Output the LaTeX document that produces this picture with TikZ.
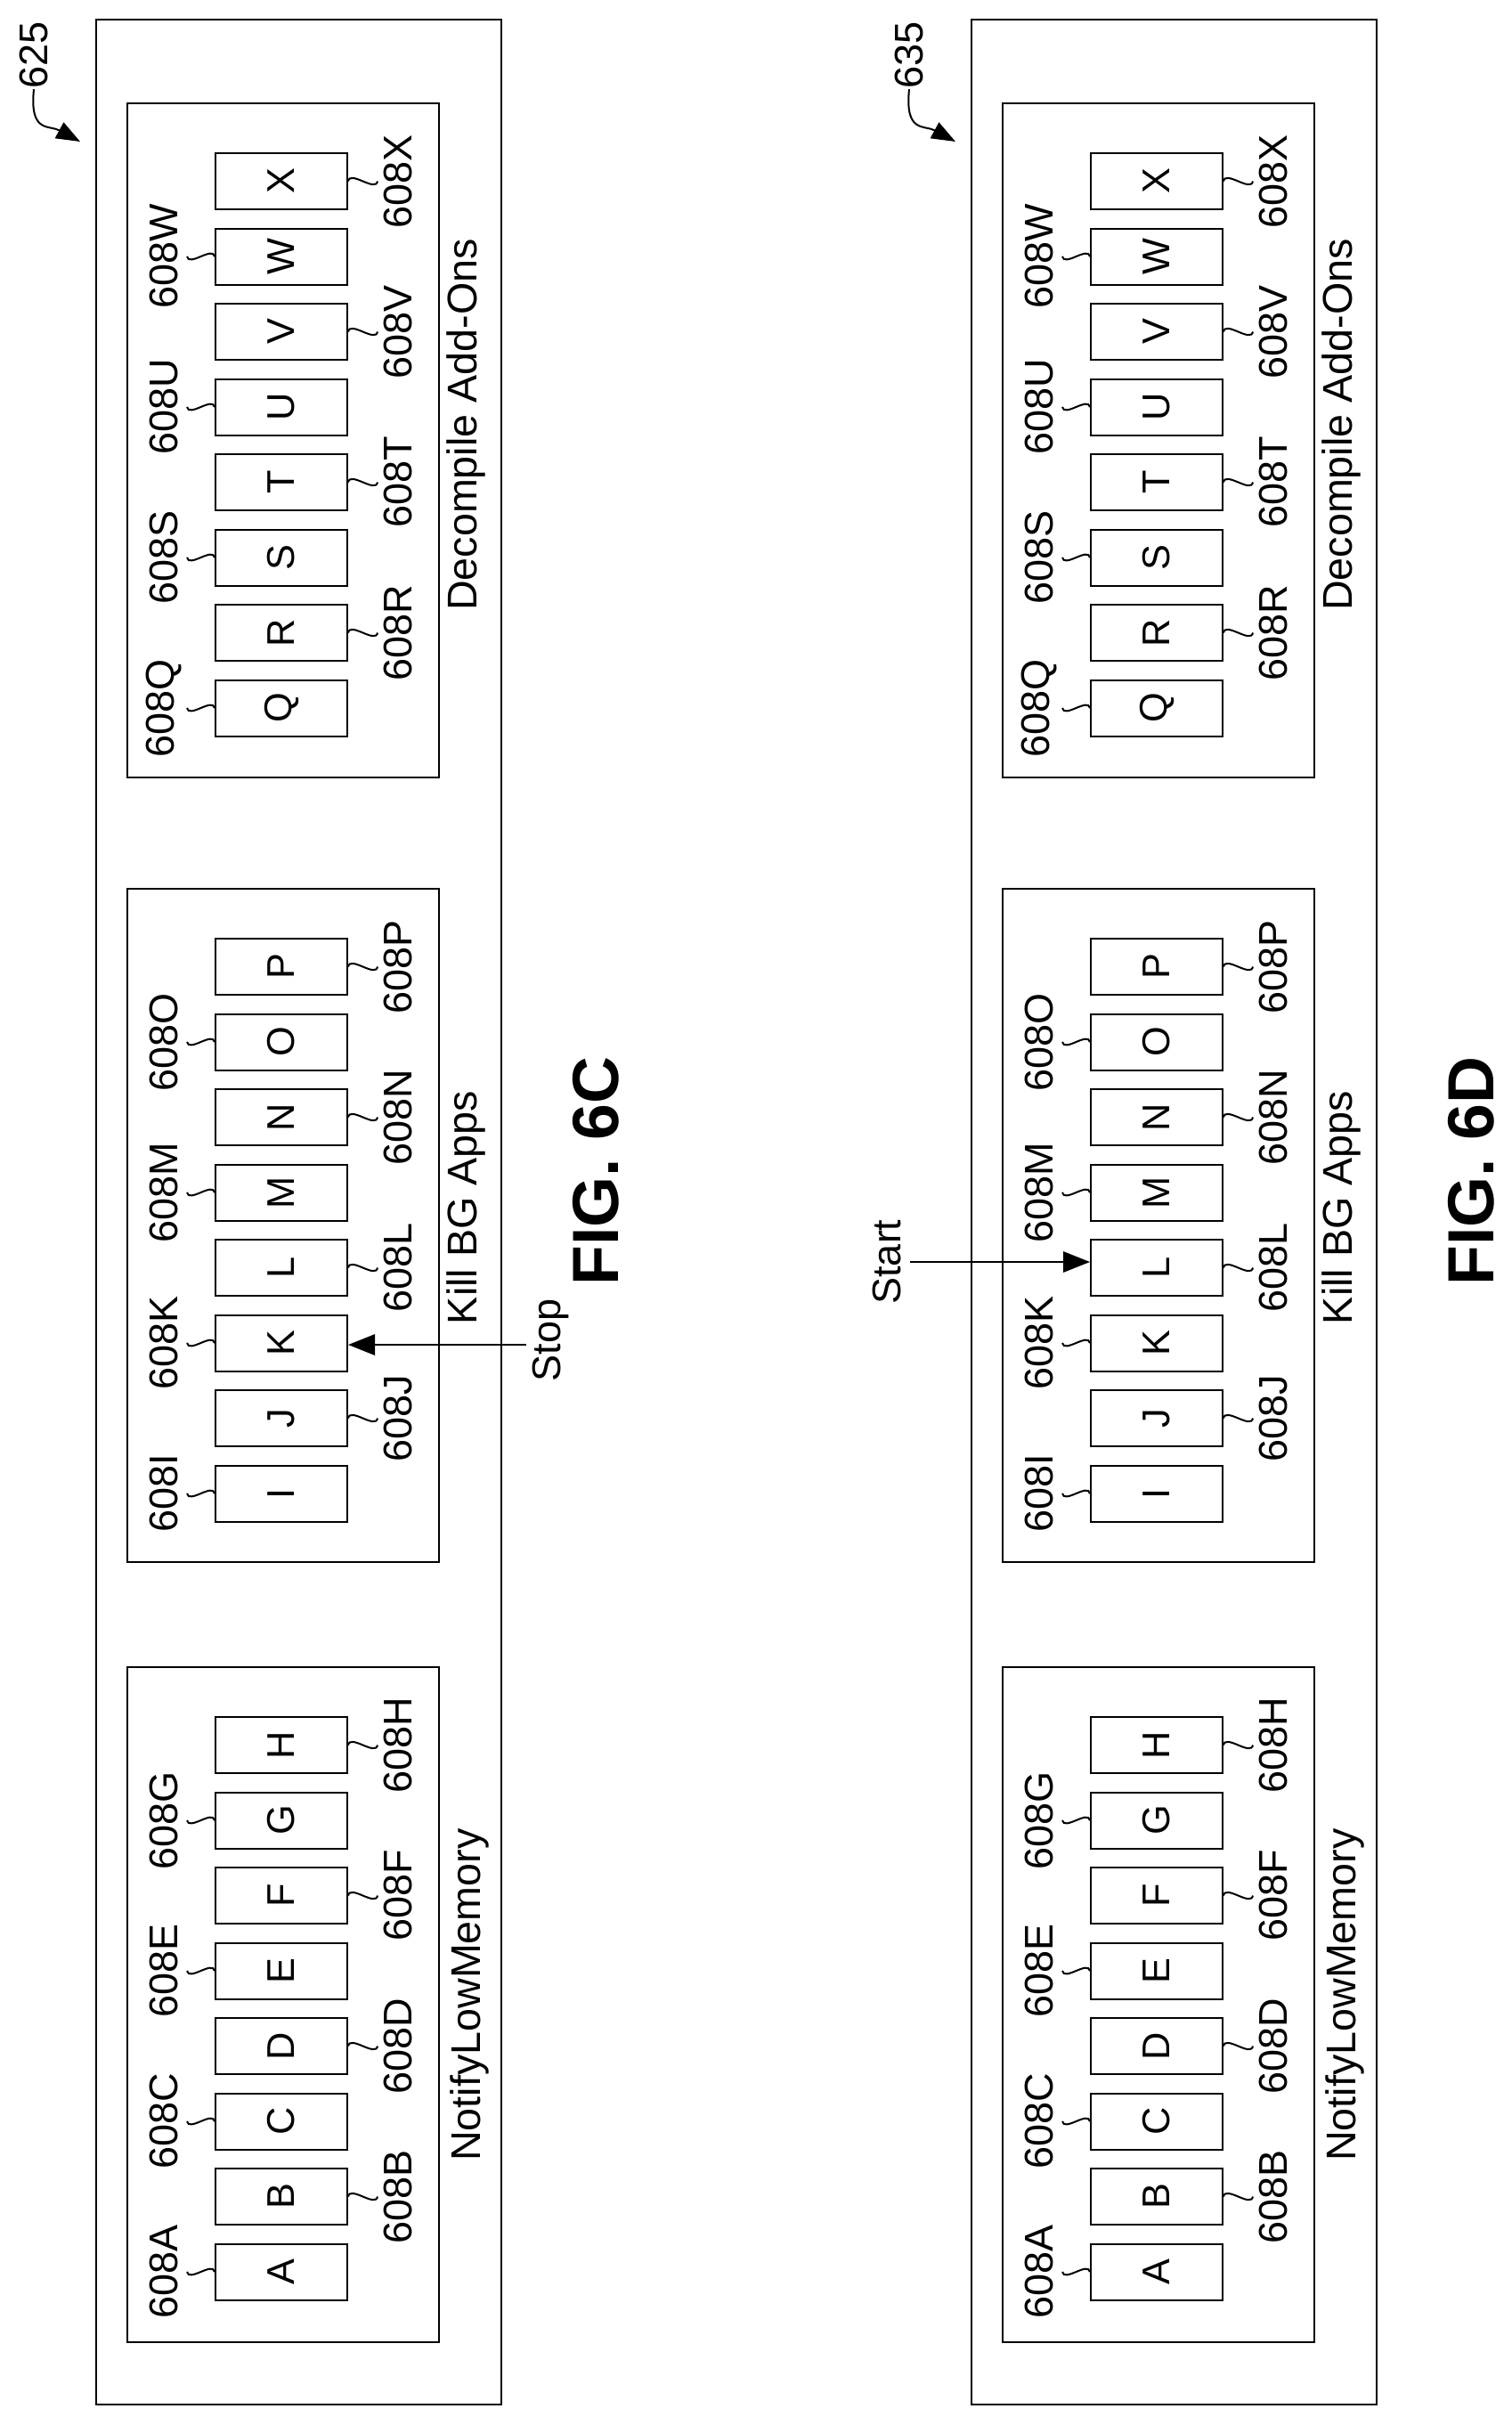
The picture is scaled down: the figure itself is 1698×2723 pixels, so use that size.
\documentclass[tikz,border=0pt]{standalone}
\usepackage{fontspec}
\setmainfont{Liberation Sans}
\usetikzlibrary{arrows.meta}
\begin{document}
\begin{tikzpicture}[x=0.3pt,y=-0.3pt,
  frame/.style={draw,line width=0.6pt},
  box/.style={draw,line width=0.6pt,minimum width=44.4pt,minimum height=18.9pt,inner sep=0pt,font=\fontsize{13}{13}\selectfont},
  lbl/.style={rotate=90,inner sep=0pt,font=\fontsize{13.5}{14}\selectfont},
  grp/.style={rotate=90,inner sep=0pt,font=\fontsize{14}{15}\selectfont},
  fig/.style={rotate=90,inner sep=0pt,font=\fontsize{22}{24}\selectfont\bfseries},
  sq/.style={line width=0.6pt},
  arr/.style={line width=0.6pt,-{Triangle[length=9pt,width=7pt]}}]
\useasboundingbox (0,0) rectangle (1698,2723);
\foreach \fig/\dx/\num/\F in {c/0/625/6C,d/983/635/6D}{
  \begin{scope}[xshift=\dx*0.3pt]
    \node[frame,minimum width=136.5pt,minimum height=803.4pt,inner sep=0pt] (\fig-outer) at (335.5,1361) {};
    \node[frame,minimum width=105pt,minimum height=227.1pt,inner sep=0pt] (\fig-g1) at (318,494.5) {};
    \node[frame,minimum width=105pt,minimum height=226.8pt,inner sep=0pt] (\fig-g2) at (318,1376) {};
    \node[frame,minimum width=105pt,minimum height=227.4pt,inner sep=0pt] (\fig-g3) at (318,2251) {};
    \node[grp] (\fig-t1) at (523,477) {Decompile Add-Ons};
    \node[grp] (\fig-t2) at (523,1356) {Kill BG Apps};
    \node[grp] (\fig-t3) at (527,2240) {NotifyLowMemory};
    \node[fig] (\fig-fig) at (669,1315) {FIG. \F};
    \node[lbl] (\fig-num) at (38,62) {\num};
    \coordinate (\fig-tip) at (90,159);
    \draw[sq,-{Triangle[length=8pt,width=6pt]}] (\fig-num.west) ++(0,0) .. controls (33,150) and (55,140) .. (\fig-tip);
    \foreach \base/\letters in {795/{Q,R,S,T,U,V,W,X},1677/{I,J,K,L,M,N,O,P},2551/{A,B,C,D,E,F,G,H}}{
      \foreach \L [count=\i from 0] in \letters {
        \pgfmathsetmacro\yy{\base-\i*84.5}
        \node[box] (\fig-\L) at (316,\yy) {\rotatebox{90}{\L}};
        \ifodd\i
          \node[lbl] (\fig-l\L) at (447,\yy) {608\L};
          \draw[sq] (\fig-\L.east) to[out=80,in=-100] ++(33,0);
        \else
          \node[lbl] (\fig-l\L) at (184,\yy) {608\L};
          \draw[sq] (\fig-\L.west) to[out=100,in=-80] ++(-31,0);
        \fi
      }
    }
  \end{scope}
}
\node[lbl] (stop) at (618,1505) {Stop};
\coordinate (stopc) at (591,1510);
\draw[arr] (stopc) -- (c-K.east |- stopc);
\node[lbl] (start) at (996,1417) {Start};
\coordinate (startc) at (1022,1417);
\draw[arr] (startc) -- (d-L.west |- startc);
\end{tikzpicture}
\end{document}
